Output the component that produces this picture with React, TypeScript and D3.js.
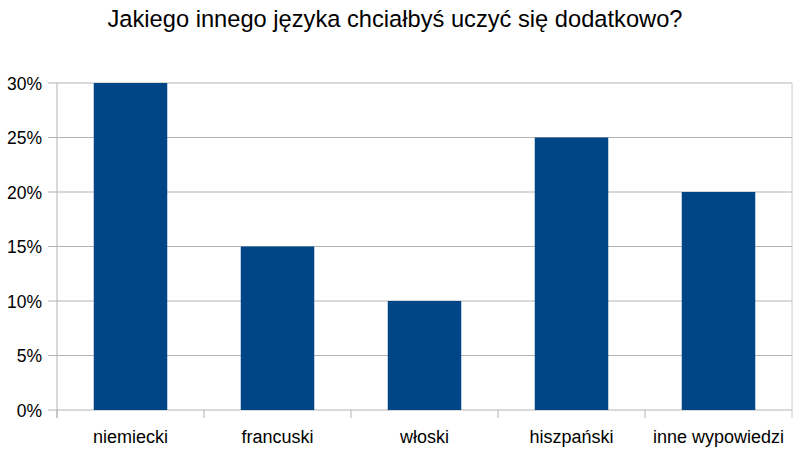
import React from "react";
import * as d3 from "d3";

const title = "Jakiego innego języka chciałbyś uczyć się dodatkowo?";
const categories = ["niemiecki", "francuski", "włoski", "hiszpański", "inne wypowiedzi"];
const values = [30, 15, 10, 25, 20];
const yTicks = [0, 5, 10, 15, 20, 25, 30];

const W = 811;
const H = 457;
const margin = { left: 57, right: 19, top: 83, bottom: 47 };

export default function App() {
  const x = d3
    .scaleBand<string>()
    .domain(categories)
    .range([margin.left, W - margin.right])
    .paddingInner(0.5)
    .paddingOuter(0.25);
  const band = d3.scaleBand<string>().domain(categories).range([margin.left, W - margin.right]);
  const y = d3.scaleLinear().domain([0, 30]).range([H - margin.bottom, margin.top]);
  const font = "'Liberation Sans', Arial, sans-serif";
  const x0 = margin.left;
  const x1 = W - margin.right;
  const y0 = y(0);
  return (
    <svg
      width={W}
      height={H}
      style={{ position: "absolute", left: 0, top: 0, background: "#fff" }}
      fontFamily={font}
    >
      <rect width={W} height={H} fill="#fff" />
      <text
        x={395}
        y={27}
        textAnchor="middle"
        fontSize={24.5}
        textLength={575}
        lengthAdjust="spacingAndGlyphs"
        fill="#000"
      >
        {title}
      </text>
      {yTicks.map((t) => (
        <g key={t}>
          <line x1={x0 - 9} x2={x1} y1={y(t)} y2={y(t)} stroke="#b3b3b3" strokeWidth={1} />
          <text x={42} y={y(t) + 6.5} textAnchor="end" fontSize={17.5} fill="#000">
            {t}%
          </text>
        </g>
      ))}
      <line x1={x0} x2={x0} y1={y(30)} y2={y0 + 8} stroke="#b3b3b3" />
      <line x1={x1} x2={x1} y1={y(30)} y2={y0 + 8} stroke="#cccccc" />
      {categories.map((c, i) => (
        <g key={c}>
          <line
            x1={band(c)!}
            x2={band(c)!}
            y1={y0}
            y2={y0 + 8}
            stroke="#b3b3b3"
          />
          <rect
            x={x(c)!}
            y={y(values[i])}
            width={x.bandwidth()}
            height={y0 - y(values[i])}
            fill="#004586"
          />
          <text
            x={x(c)! + x.bandwidth() / 2}
            y={y0 + 33}
            textAnchor="middle"
            fontSize={18}
            fill="#000"
          >
            {c}
          </text>
        </g>
      ))}
    </svg>
  );
}
